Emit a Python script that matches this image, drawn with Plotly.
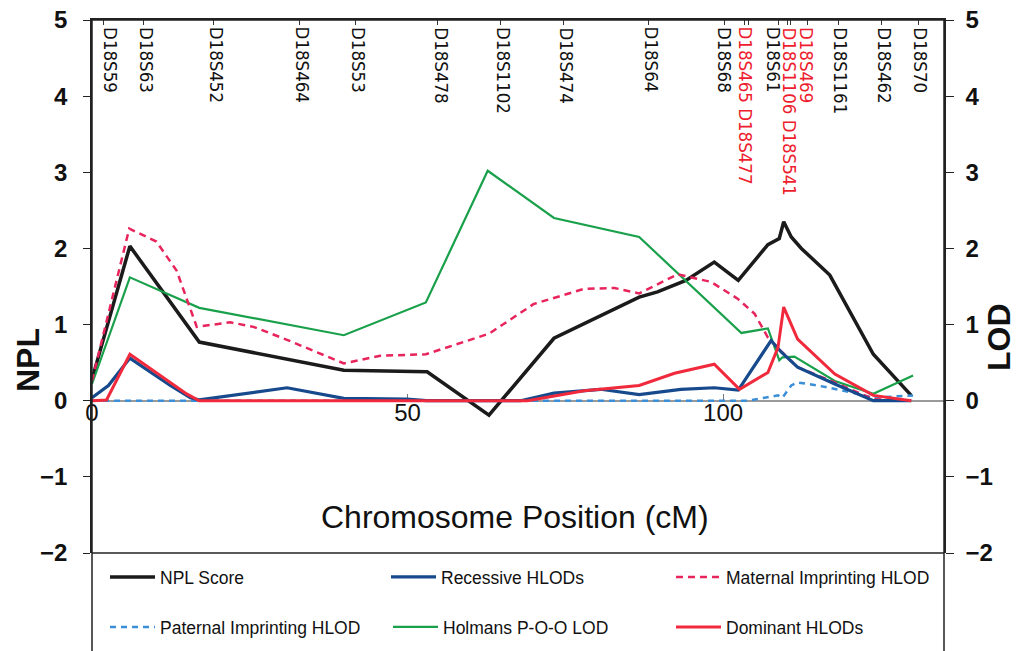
import plotly.graph_objects as go

# ---------------- data ----------------
npl_x = [0, 6.0, 17.0, 30.9, 39.9, 53.1, 62.9, 73.2, 86.7, 89.6, 94.1, 98.6, 102.4,
         107.1, 108.9, 109.6, 110.8, 112.4, 116.9, 123.8, 126.1, 129.8]
npl_y = [0.28, 2.03, 0.77, 0.55, 0.40, 0.38, -0.19, 0.82, 1.36, 1.43, 1.58, 1.82, 1.58,
         2.05, 2.13, 2.35, 2.15, 2.00, 1.65, 0.61, 0.40, 0.07]

rec_x = [0, 2.6, 6.0, 12.4, 15.6, 17.0, 30.9, 39.9, 49.9, 53.0, 67.9, 73.2, 80.6, 86.7,
         93.3, 98.6, 102.4, 107.6, 109.2, 111.8, 117.7, 123.8, 129.8]
rec_y = [0.04, 0.20, 0.56, 0.20, 0.04, 0.01, 0.17, 0.03, 0.02, 0.0, 0.0, 0.10, 0.15, 0.08,
         0.15, 0.17, 0.14, 0.79, 0.64, 0.44, 0.22, 0.0, 0.0]

mat_x = [0, 5.9, 10.2, 13.4, 16.6, 21.9, 25.6, 30.9, 39.9, 45.7, 52.9, 62.9, 70.0, 78.0,
         82.8, 86.7, 92.8, 98.1, 102.3, 105.0, 107.1, 108.7, 111.8, 117.7, 123.8, 129.8]
mat_y = [0.26, 2.26, 2.09, 1.71, 0.97, 1.03, 0.97, 0.80, 0.49, 0.59, 0.61, 0.88, 1.27, 1.47,
         1.48, 1.41, 1.66, 1.56, 1.34, 1.14, 0.83, 0.69, 0.44, 0.24, 0.02, 0.0]

pat_x = [0, 103.9, 106.6, 108.7, 109.4, 110.8, 111.8, 115.0, 120.3, 123.8, 130.1]
pat_y = [0, 0, 0.04, 0.07, 0.04, 0.20, 0.24, 0.20, 0.11, 0.04, 0.07]

hol_x = [0, 6.0, 17.0, 39.9, 52.9, 62.7, 73.2, 86.7, 102.9, 107.1, 108.9, 109.4, 111.3,
         117.7, 123.8, 130.1]
hol_y = [0.22, 1.62, 1.22, 0.86, 1.29, 3.02, 2.40, 2.15, 0.89, 0.95, 0.53, 0.57, 0.58,
         0.26, 0.09, 0.33]

dom_x = [0, 2.3, 6.0, 12.4, 15.0, 17.0, 69.0, 78.0, 86.7, 92.3, 98.6, 102.6, 107.1, 108.7,
         109.6, 111.8, 117.7, 123.8, 129.8]
dom_y = [0, 0.01, 0.61, 0.24, 0.09, 0.0, 0.0, 0.13, 0.20, 0.36, 0.48, 0.15, 0.37, 0.70,
         1.23, 0.81, 0.35, 0.07, 0.0]

marker_labels = ["D18S59", "D18S63", "D18S452", "D18S464", "D18S53", "D18S478", "D18S1102",
                 "D18S474", "D18S64", "D18S68", "D18S465 D18S477", "D18S61",
                 "D18S1106 D18S541", "D18S469", "D18S1161", "D18S462", "D18S70"]
marker_label_cm = [3.0, 8.7, 19.85, 33.5, 42.3, 55.4, 65.2, 75.2, 88.8, 100.3, 103.7, 108.1,
                   110.45, 113.3, 118.55, 125.6, 131.3]
marker_red = [False, False, False, False, False, False, False, False, False, False, True,
              False, True, True, False, False, False]
marker_tick_cm = [1.75, 8.1, 19.2, 32.9, 41.8, 54.7, 64.8, 74.7, 88.2, 100.25, 103.43,
                  103.97, 108.83, 110.21, 110.73, 113.39, 118.3, 125.1, 131.0]

x_ticks = [0, 50, 100]
y_ticks = [-2, -1, 0, 1, 2, 3, 4, 5]

# ---------------- figure ----------------
FONT = "Liberation Sans, Arial, Helvetica, sans-serif"
NARROW = "Liberation Sans Narrow, Arial Narrow, DejaVu Sans Condensed, Liberation Sans, sans-serif"

W, H = 1019, 651
# plot area in window pixels: x 92..944, y 20..553
PL, PR, PT, PB = 92, 944, 20, 553
L, T, R, B = PL, PT, W - PR, H - PB
pw, ph = PR - PL, PB - PT


def px_x(p):
    return (p - PL) / pw


def px_y(p):
    return (PB - p) / ph


fig = go.Figure()

series = [
    ("Paternal Imprinting HLOD", pat_x, pat_y, "#3b8fd8", 2.5, "6px,5px", "x2", "y2", "legend4"),
    ("Holmans P-O-O LOD", hol_x, hol_y, "#19a04a", 2.2, "solid", "x2", "y2", "legend5"),
    ("Maternal Imprinting HLOD", mat_x, mat_y, "#e8245c", 2.5, "7px,5px", "x2", "y2", "legend3"),
    ("Recessive HLODs", rec_x, rec_y, "#174a8c", 3.2, "solid", "x2", "y2", "legend2"),
    ("Dominant HLODs", dom_x, dom_y, "#f02a3c", 3.0, "solid", "x2", "y2", "legend6"),
    ("NPL Score", npl_x, npl_y, "#1b1b1b", 3.5, "solid", "x", "y", "legend"),
]
for name, xs, ys, col, w, dash, xa, ya, lg in series:
    fig.add_trace(go.Scatter(x=xs, y=ys, mode="lines", name=name,
                             line=dict(color=col, width=w, dash=dash),
                             xaxis=xa, yaxis=ya, legend=lg, hoverinfo="skip"))

# legends: one per entry, placed like the reference's boxed legend
leg_pos = {
    "legend": (110, 577), "legend2": (391, 577), "legend3": (676, 577),
    "legend4": (110, 627), "legend5": (393, 627), "legend6": (676, 627),
}
legend_layout = {}
for key, (lx, ly) in leg_pos.items():
    legend_layout[key] = dict(x=px_x(lx - 5), y=px_y(ly), xanchor="left", yanchor="middle",
                              bgcolor="rgba(0,0,0,0)", borderwidth=0, itemwidth=45,
                              font=dict(family=FONT, size=17.5, color="#111"),
                              itemclick=False, itemdoubleclick=False)

annotations = []
for lab, xc, red in zip(marker_labels, marker_label_cm, marker_red):
    annotations.append(dict(x=xc, y=5, xref="x", yref="y", text=lab, textangle=90,
                            showarrow=False, xanchor="center", yanchor="top", yshift=-5,
                            font=dict(family=NARROW, size=18.5,
                                      color="#ee1c2e" if red else "#111")))

annotations += [
    dict(x=px_x(28), y=px_y(360), xref="paper", yref="paper", text="<b>NPL</b>",
         textangle=-90, showarrow=False, xanchor="center", yanchor="middle",
         font=dict(family=FONT, size=32, color="#111")),
    dict(x=px_x(999), y=px_y(337), xref="paper", yref="paper", text="<b>LOD</b>",
         textangle=-90, showarrow=False, xanchor="center", yanchor="middle",
         font=dict(family=FONT, size=32, color="#111")),
    dict(x=px_x(515), y=px_y(517), xref="paper", yref="paper",
         text="Chromosome Position (cM)", showarrow=False, xanchor="center",
         yanchor="middle", font=dict(family=FONT, size=32, color="#111")),
]

shapes = [
    dict(type="rect", xref="paper", yref="paper", x0=0, x1=1, y0=px_y(652), y1=1,
         line=dict(color="#222", width=1.5)),
    dict(type="line", xref="paper", yref="paper", x0=0, x1=1, y0=0, y1=0,
         line=dict(color="#222", width=1.5)),
]

fig.update_layout(
    width=W, height=H,
    margin=dict(l=L, r=R, t=T, b=B, pad=0, autoexpand=False),
    paper_bgcolor="white", plot_bgcolor="white",
    showlegend=True,
    font=dict(family=FONT, color="#111"),
    xaxis=dict(range=[0, 135], anchor="free", position=2 / 7, showgrid=False, zeroline=False,
               showline=True, linecolor="#9a9a9a", linewidth=1.5, layer="below traces",
               tickvals=x_ticks, ticks="inside", ticklen=6, tickcolor="#777",
               ticklabelstandoff=-9, ticklabeloverflow="allow",
               tickfont=dict(family=FONT, size=24, color="#111")),
    xaxis2=dict(range=[0, 135], overlaying="x", side="top", anchor="y2", showgrid=False,
                zeroline=False, showline=True, linecolor="#222", linewidth=1.5,
                tickvals=marker_tick_cm, ticks="inside", ticklen=5, tickcolor="#333",
                tickwidth=1, showticklabels=False),
    yaxis=dict(range=[-2, 5], tickvals=y_ticks, showgrid=False, zeroline=False,
               showline=True, linecolor="#222", linewidth=1.5, ticks="outside", ticklen=7,
               tickcolor="#222", ticklabelstandoff=11, ticklabeloverflow="allow",
               tickfont=dict(family=FONT, size=24, color="#111", weight="bold")),
    yaxis2=dict(range=[-2, 5], tickvals=y_ticks, overlaying="y", side="right", anchor="x2",
                showgrid=False, zeroline=False, showline=True, linecolor="#222",
                linewidth=1.5, ticks="outside", ticklen=8, tickcolor="#222",
                ticklabelstandoff=7, ticklabeloverflow="allow",
                tickfont=dict(family=FONT, size=24, color="#111", weight="bold")),
    annotations=annotations,
    shapes=shapes,
    **legend_layout,
)

# remove the browser's default 8px body margin so the figure fills the window exactly
fig.write_html("out.html", config={"displayModeBar": False},
               post_script="document.body.style.margin='0px';document.body.style.overflow='hidden';")
